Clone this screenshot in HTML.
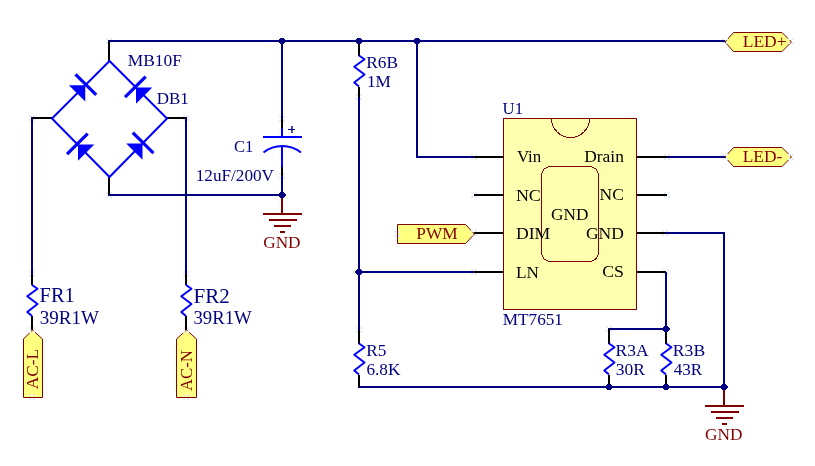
<!DOCTYPE html>
<html><head><meta charset="utf-8"><style>
html,body{margin:0;padding:0;background:#fff;width:815px;height:466px;overflow:hidden}
svg{display:block;will-change:transform}
text{font-family:"Liberation Serif",serif;-webkit-font-smoothing:antialiased}
</style></head><body>
<svg width="815" height="466" viewBox="0 0 815 466">
<rect width="815" height="466" fill="#fff"/>
<path d="M108,41 H725" stroke="#000080" stroke-width="2" fill="none" shape-rendering="crispEdges"/>
<path d="M108,195 H282" stroke="#000080" stroke-width="2" fill="none" shape-rendering="crispEdges"/>
<path d="M32,117 V274" stroke="#000080" stroke-width="2" fill="none" shape-rendering="crispEdges"/>
<path d="M186,117 V274" stroke="#000080" stroke-width="2" fill="none" shape-rendering="crispEdges"/>
<path d="M282,41 V119" stroke="#000080" stroke-width="2" fill="none" shape-rendering="crispEdges"/>
<path d="M282,176 V195" stroke="#000080" stroke-width="2" fill="none" shape-rendering="crispEdges"/>
<path d="M359,97 V330" stroke="#000080" stroke-width="2" fill="none" shape-rendering="crispEdges"/>
<path d="M417,41 V157 H474" stroke="#000080" stroke-width="2" fill="none" shape-rendering="crispEdges"/>
<path d="M359,272 H474" stroke="#000080" stroke-width="2" fill="none" shape-rendering="crispEdges"/>
<path d="M667,157 H725" stroke="#000080" stroke-width="2" fill="none" shape-rendering="crispEdges"/>
<path d="M665,233 H724 V387" stroke="#000080" stroke-width="2" fill="none" shape-rendering="crispEdges"/>
<path d="M666,272 V329 H608" stroke="#000080" stroke-width="2" fill="none" shape-rendering="crispEdges"/>
<path d="M358,387 H724" stroke="#000080" stroke-width="2" fill="none" shape-rendering="crispEdges"/>
<path d="M109,41 V61" stroke="#000000" stroke-width="2" fill="none" shape-rendering="crispEdges"/>
<path d="M109,176.5 V195" stroke="#000000" stroke-width="2" fill="none" shape-rendering="crispEdges"/>
<path d="M52,118 H32" stroke="#000000" stroke-width="2" fill="none" shape-rendering="crispEdges"/>
<path d="M167,118 H186" stroke="#000000" stroke-width="2" fill="none" shape-rendering="crispEdges"/>
<path d="M32,274 V285" stroke="#000000" stroke-width="2" fill="none" shape-rendering="crispEdges"/>
<path d="M32,316 V330" stroke="#000000" stroke-width="2" fill="none" shape-rendering="crispEdges"/>
<path d="M186,274 V285" stroke="#000000" stroke-width="2" fill="none" shape-rendering="crispEdges"/>
<path d="M186,316 V330" stroke="#000000" stroke-width="2" fill="none" shape-rendering="crispEdges"/>
<path d="M282,119 V127.5" stroke="#000000" stroke-width="2" fill="none" shape-rendering="crispEdges"/>
<path d="M282,167 V176" stroke="#000000" stroke-width="2" fill="none" shape-rendering="crispEdges"/>
<path d="M359,41 V55.5" stroke="#000000" stroke-width="2" fill="none" shape-rendering="crispEdges"/>
<path d="M359,86.5 V97" stroke="#000000" stroke-width="2" fill="none" shape-rendering="crispEdges"/>
<path d="M359,330 V343.5" stroke="#000000" stroke-width="2" fill="none" shape-rendering="crispEdges"/>
<path d="M359,374.5 V387" stroke="#000000" stroke-width="2" fill="none" shape-rendering="crispEdges"/>
<path d="M609,329 V343.5" stroke="#000000" stroke-width="2" fill="none" shape-rendering="crispEdges"/>
<path d="M609,374.5 V387" stroke="#000000" stroke-width="2" fill="none" shape-rendering="crispEdges"/>
<path d="M666,329 V343.5" stroke="#000000" stroke-width="2" fill="none" shape-rendering="crispEdges"/>
<path d="M666,374.5 V387" stroke="#000000" stroke-width="2" fill="none" shape-rendering="crispEdges"/>
<path d="M474,157 H503" stroke="#000000" stroke-width="2" fill="none" shape-rendering="crispEdges"/>
<path d="M474,195 H503" stroke="#000000" stroke-width="2" fill="none" shape-rendering="crispEdges"/>
<path d="M474,233 H503" stroke="#000000" stroke-width="2" fill="none" shape-rendering="crispEdges"/>
<path d="M474,272 H503" stroke="#000000" stroke-width="2" fill="none" shape-rendering="crispEdges"/>
<path d="M637,157 H667" stroke="#000000" stroke-width="2" fill="none" shape-rendering="crispEdges"/>
<path d="M637,195 H667" stroke="#000000" stroke-width="2" fill="none" shape-rendering="crispEdges"/>
<path d="M637,233 H665" stroke="#000000" stroke-width="2" fill="none" shape-rendering="crispEdges"/>
<path d="M637,272 H666" stroke="#000000" stroke-width="2" fill="none" shape-rendering="crispEdges"/>
<path d="M109.5,61 L52,118.5 L109.5,177 L167,118.5 Z" stroke="#0000FF" stroke-width="2" fill="none" stroke-linejoin="miter"/>
<polygon points="85.25,85.25 68.95,85.25 85.25,101.55" fill="#0000FF"/>
<path d="M75.56,74.29 L96.21,94.94" stroke="#0000FF" stroke-width="3.2" fill="none" />
<polygon points="136,87.5 152.3,87.5 136.0,103.8" fill="#0000FF"/>
<path d="M125.04,97.19 L145.69,76.54" stroke="#0000FF" stroke-width="3.2" fill="none" />
<polygon points="78,144.5 94.3,144.5 78.0,160.8" fill="#0000FF"/>
<path d="M67.04,154.19 L87.69,133.54" stroke="#0000FF" stroke-width="3.2" fill="none" />
<polygon points="142.5,143.5 126.2,143.5 142.5,159.8" fill="#0000FF"/>
<path d="M132.81,132.54 L153.46,153.19" stroke="#0000FF" stroke-width="3.2" fill="none" />
<path d="M282,127.5 V137 M263,137 H302 M282,146 V167" stroke="#0000FF" stroke-width="2" fill="none" shape-rendering="crispEdges"/>
<path d="M263.5,152.5 A30.3,30.3 0 0 1 301,152.5" stroke="#0000FF" stroke-width="2" fill="none" />
<path d="M288,129.5 H295" stroke="#000080" stroke-width="1" fill="none" shape-rendering="crispEdges"/>
<path d="M292,126 V133" stroke="#000080" stroke-width="1.4" fill="none" />
<path d="M32,285 L37.5,288.75 L27.25,296.25 L37.5,304 L27.25,312 L32,316" stroke="#0000FF" stroke-width="2" fill="none" stroke-linejoin="round"/>
<path d="M186,285 L191.5,288.75 L181.25,296.25 L191.5,304 L181.25,312 L186,316" stroke="#0000FF" stroke-width="2" fill="none" stroke-linejoin="round"/>
<path d="M359,55.5 L364.5,59.25 L354.25,66.75 L364.5,74.5 L354.25,82.5 L359,86.5" stroke="#0000FF" stroke-width="2" fill="none" stroke-linejoin="round"/>
<path d="M359,343.5 L364.5,347.25 L354.25,354.75 L364.5,362.5 L354.25,370.5 L359,374.5" stroke="#0000FF" stroke-width="2" fill="none" stroke-linejoin="round"/>
<path d="M609,343.5 L614.5,347.25 L604.25,354.75 L614.5,362.5 L604.25,370.5 L609,374.5" stroke="#0000FF" stroke-width="2" fill="none" stroke-linejoin="round"/>
<path d="M666,343.5 L671.5,347.25 L661.25,354.75 L671.5,362.5 L661.25,370.5 L666,374.5" stroke="#0000FF" stroke-width="2" fill="none" stroke-linejoin="round"/>
<path d="M282,195 V214" stroke="#800000" stroke-width="2" fill="none" shape-rendering="crispEdges"/>
<path d="M263,214 H302" stroke="#800000" stroke-width="2" fill="none" shape-rendering="crispEdges"/>
<path d="M269,220 H297" stroke="#800000" stroke-width="2" fill="none" shape-rendering="crispEdges"/>
<path d="M274,226 H291" stroke="#800000" stroke-width="2" fill="none" shape-rendering="crispEdges"/>
<path d="M280,232 H285" stroke="#800000" stroke-width="2" fill="none" shape-rendering="crispEdges"/>
<path d="M724,387 V406" stroke="#800000" stroke-width="2" fill="none" shape-rendering="crispEdges"/>
<path d="M705,406 H744" stroke="#800000" stroke-width="2" fill="none" shape-rendering="crispEdges"/>
<path d="M711,412 H739" stroke="#800000" stroke-width="2" fill="none" shape-rendering="crispEdges"/>
<path d="M716,418 H733" stroke="#800000" stroke-width="2" fill="none" shape-rendering="crispEdges"/>
<path d="M722,424 H727" stroke="#800000" stroke-width="2" fill="none" shape-rendering="crispEdges"/>
<path d="M280,38h4v1h-4z M279,39h6v1h-6z M278,40h8v2h-8z M279,42h6v1h-6z M280,43h4v1h-4z" fill="#000080" shape-rendering="crispEdges"/>
<path d="M357,38h4v1h-4z M356,39h6v1h-6z M355,40h8v2h-8z M356,42h6v1h-6z M357,43h4v1h-4z" fill="#000080" shape-rendering="crispEdges"/>
<path d="M415,38h4v1h-4z M414,39h6v1h-6z M413,40h8v2h-8z M414,42h6v1h-6z M415,43h4v1h-4z" fill="#000080" shape-rendering="crispEdges"/>
<path d="M280,192h4v1h-4z M279,193h6v1h-6z M278,194h8v2h-8z M279,196h6v1h-6z M280,197h4v1h-4z" fill="#000080" shape-rendering="crispEdges"/>
<path d="M357,269h4v1h-4z M356,270h6v1h-6z M355,271h8v2h-8z M356,273h6v1h-6z M357,274h4v1h-4z" fill="#000080" shape-rendering="crispEdges"/>
<path d="M664,326h4v1h-4z M663,327h6v1h-6z M662,328h8v2h-8z M663,330h6v1h-6z M664,331h4v1h-4z" fill="#000080" shape-rendering="crispEdges"/>
<path d="M607,384h4v1h-4z M606,385h6v1h-6z M605,386h8v2h-8z M606,388h6v1h-6z M607,389h4v1h-4z" fill="#000080" shape-rendering="crispEdges"/>
<path d="M664,384h4v1h-4z M663,385h6v1h-6z M662,386h8v2h-8z M663,388h6v1h-6z M664,389h4v1h-4z" fill="#000080" shape-rendering="crispEdges"/>
<path d="M722,384h4v1h-4z M721,385h6v1h-6z M720,386h8v2h-8z M721,388h6v1h-6z M722,389h4v1h-4z" fill="#000080" shape-rendering="crispEdges"/>
<rect x="503.5" y="118.5" width="133" height="191" fill="#FFFFB0" stroke="#800000" stroke-width="1"/>
<path d="M551.5,118.5 A19,19 0 0 0 589.5,118.5" stroke="#800000" stroke-width="1" fill="none" shape-rendering="crispEdges"/>
<rect x="541.5" y="166.5" width="57" height="95" rx="9" fill="none" stroke="#800000" stroke-width="1" shape-rendering="crispEdges"/>
<polygon points="725,42 733.5,32.5 782,32.5 791.5,42 782,51.5 733.5,51.5" fill="#FFFF80" stroke="#800000" stroke-width="1"/>
<polygon points="725,157 733.5,147.5 782,147.5 791.5,157 782,166.5 733.5,166.5" fill="#FFFF80" stroke="#800000" stroke-width="1"/>
<polygon points="397.5,224.5 465.5,224.5 474.5,234 465.5,243.5 397.5,243.5" fill="#FFFF80" stroke="#800000" stroke-width="1"/>
<polygon points="32.5,330 42.5,339 42.5,397.5 23.5,397.5 23.5,339" fill="#FFFF80" stroke="#800000" stroke-width="1"/>
<polygon points="186.5,330 196.5,339 196.5,397.5 176.5,397.5 176.5,339" fill="#FFFF80" stroke="#800000" stroke-width="1"/>
<text fill="#000080" font-size="16.5" transform="translate(127.80 65.80) scale(1.0541 1)">MB10F</text>
<text fill="#000080" font-size="16.5" transform="translate(156.71 104.00) scale(1.0301 1)">DB1</text>
<text fill="#000080" font-size="16.5" transform="translate(234.02 152.35) scale(1.0064 1)">C1</text>
<text fill="#000080" font-size="16.5" transform="translate(195.69 181.00) scale(1.0430 1)">12uF/200V</text>
<text fill="#000080" font-size="21" transform="translate(39.61 302.40) scale(0.9703 1)">FR1</text>
<text fill="#000080" font-size="18" transform="translate(39.79 323.50) scale(1.0599 1)">39R1W</text>
<text fill="#000080" font-size="21" transform="translate(193.49 302.80) scale(1.0023 1)">FR2</text>
<text fill="#000080" font-size="18" transform="translate(193.40 323.90) scale(1.0436 1)">39R1W</text>
<text fill="#000080" font-size="16.5" transform="translate(366.20 68.15) scale(1.0525 1)">R6B</text>
<text fill="#000080" font-size="16.5" transform="translate(366.89 87.25) scale(1.0435 1)">1M</text>
<text fill="#000080" font-size="16.5" transform="translate(366.20 356.15) scale(1.0422 1)">R5</text>
<text fill="#000080" font-size="16.5" transform="translate(366.46 375.25) scale(1.0422 1)">6.8K</text>
<text fill="#000080" font-size="16.5" transform="translate(615.60 356.10) scale(1.0597 1)">R3A</text>
<text fill="#000080" font-size="16.5" transform="translate(615.86 375.20) scale(1.0603 1)">30R</text>
<text fill="#000080" font-size="16.5" transform="translate(672.79 356.10) scale(1.0697 1)">R3B</text>
<text fill="#000080" font-size="16.5" transform="translate(673.67 375.20) scale(1.0383 1)">43R</text>
<text fill="#000080" font-size="16.5" transform="translate(502.55 113.90) scale(1.0144 1)">U1</text>
<text fill="#000080" font-size="16.5" transform="translate(502.70 324.70) scale(1.0447 1)">MT7651</text>
<text fill="#000000" font-size="16.5" transform="translate(516.91 161.80) scale(1.0241 1)">Vin</text>
<text fill="#000000" font-size="16.5" transform="translate(515.88 200.85) scale(1.0912 1)">NC</text>
<text fill="#000000" font-size="16.5" transform="translate(515.89 239.00) scale(1.0700 1)">DIM</text>
<text fill="#000000" font-size="16.5" transform="translate(515.91 277.55) scale(1.0407 1)">LN</text>
<text fill="#000000" font-size="16.5" transform="translate(551.09 219.80) scale(1.0462 1)">GND</text>
<text fill="#000000" font-size="16.5" transform="translate(584.20 162.00) scale(1.0585 1)">Drain</text>
<text fill="#000000" font-size="16.5" transform="translate(599.60 200.40) scale(1.0587 1)">NC</text>
<text fill="#000000" font-size="16.5" transform="translate(585.98 238.90) scale(1.0607 1)">GND</text>
<text fill="#000000" font-size="16.5" transform="translate(602.27 276.80) scale(1.0767 1)">CS</text>
<text fill="#800000" font-size="16.5" transform="translate(742.69 47.10) scale(1.0624 1)">LED+</text>
<text fill="#800000" font-size="16.5" transform="translate(742.70 161.60) scale(1.0549 1)">LED-</text>
<text fill="#800000" font-size="16.5" transform="translate(416.30 238.80) scale(1.0504 1)">PWM</text>
<text fill="#800000" font-size="16.5" transform="translate(263.19 247.85) scale(1.0462 1)">GND</text>
<text fill="#800000" font-size="16.5" transform="translate(705.09 439.95) scale(1.0491 1)">GND</text>
<text fill="#800000" font-size="16.5" transform="translate(37.90 389.27) rotate(-90) scale(1.0471 1)">AC-L</text>
<text fill="#800000" font-size="16.5" transform="translate(192.20 391.06) rotate(-90) scale(1.0128 1)">AC-N</text>
<path d="M106,38h2v2h-2zM110,38h2v2h-2zM106,42h2v2h-2zM110,42h2v2h-2zM29,115h2v2h-2zM33,115h2v2h-2zM29,119h2v2h-2zM33,119h2v2h-2zM183,115h2v2h-2zM187,115h2v2h-2zM183,119h2v2h-2zM187,119h2v2h-2zM106,192h2v2h-2zM110,192h2v2h-2zM106,196h2v2h-2zM110,196h2v2h-2zM279,116h2v2h-2zM283,116h2v2h-2zM279,120h2v2h-2zM283,120h2v2h-2zM279,173h2v2h-2zM283,173h2v2h-2zM279,177h2v2h-2zM283,177h2v2h-2zM29,271h2v2h-2zM33,271h2v2h-2zM29,275h2v2h-2zM33,275h2v2h-2zM183,271h2v2h-2zM187,271h2v2h-2zM183,275h2v2h-2zM187,275h2v2h-2zM29,327h2v2h-2zM33,327h2v2h-2zM29,331h2v2h-2zM33,331h2v2h-2zM183,327h2v2h-2zM187,327h2v2h-2zM183,331h2v2h-2zM187,331h2v2h-2zM29,394h2v2h-2zM33,394h2v2h-2zM29,398h2v2h-2zM33,398h2v2h-2zM183,394h2v2h-2zM187,394h2v2h-2zM183,398h2v2h-2zM187,398h2v2h-2zM356,94h2v2h-2zM360,94h2v2h-2zM356,98h2v2h-2zM360,98h2v2h-2zM356,327h2v2h-2zM360,327h2v2h-2zM356,331h2v2h-2zM360,331h2v2h-2zM471,154h2v2h-2zM475,154h2v2h-2zM471,158h2v2h-2zM475,158h2v2h-2zM471,192h2v2h-2zM475,192h2v2h-2zM471,196h2v2h-2zM475,196h2v2h-2zM471,230h2v2h-2zM475,230h2v2h-2zM471,234h2v2h-2zM475,234h2v2h-2zM471,269h2v2h-2zM475,269h2v2h-2zM471,273h2v2h-2zM475,273h2v2h-2zM664,154h2v2h-2zM668,154h2v2h-2zM664,158h2v2h-2zM668,158h2v2h-2zM664,192h2v2h-2zM668,192h2v2h-2zM664,196h2v2h-2zM668,196h2v2h-2zM662,230h2v2h-2zM666,230h2v2h-2zM662,234h2v2h-2zM666,234h2v2h-2zM663,269h2v2h-2zM667,269h2v2h-2zM663,273h2v2h-2zM667,273h2v2h-2zM606,326h2v2h-2zM610,326h2v2h-2zM606,330h2v2h-2zM610,330h2v2h-2zM722,38h2v2h-2zM726,38h2v2h-2zM722,42h2v2h-2zM726,42h2v2h-2zM788,38h2v2h-2zM792,38h2v2h-2zM788,42h2v2h-2zM792,42h2v2h-2zM722,154h2v2h-2zM726,154h2v2h-2zM722,158h2v2h-2zM726,158h2v2h-2zM788,154h2v2h-2zM792,154h2v2h-2zM788,158h2v2h-2zM792,158h2v2h-2zM394,231h2v2h-2zM398,231h2v2h-2zM394,235h2v2h-2zM398,235h2v2h-2z" fill="#E4ECFA" shape-rendering="crispEdges"/>
</svg></body></html>
